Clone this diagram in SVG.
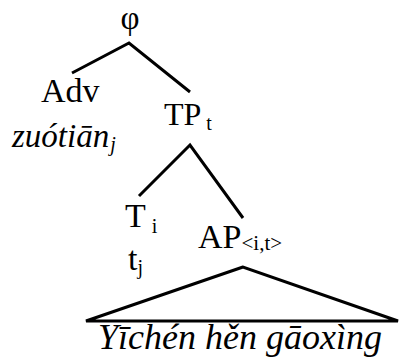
<svg xmlns="http://www.w3.org/2000/svg" width="399" height="358" viewBox="0 0 399 358">
<style>
text{font-family:'Liberation Serif','Times New Roman',serif;fill:#000}
.n{font-size:34px}
.s{font-size:20px}
.it{font-style:italic}
.e{stroke:#000;stroke-width:3;fill:none;stroke-linecap:butt;stroke-linejoin:miter}
</style>
<rect width="399" height="358" fill="#fff"/>
<g id="connectors">
<polyline class="e" points="72,73 129,43 190,92"/>
<polyline class="e" points="139,196 190,145 243,218"/>
<polygon class="e" points="243,267 86,321 398,321"/>
</g>
<g id="phi"><text x="130" y="29" text-anchor="middle" font-size="33">φ</text></g>
<g id="adv">
<text class="n" x="41" y="102">Adv</text>
<text class="it" x="12" y="147" font-size="33">zuótiān<tspan class="s" dx="1" dy="4">j</tspan></text>
</g>
<g id="tp"><text x="164" y="125" font-size="32">TP<tspan class="s" dx="5" dy="5">t</tspan></text></g>
<g id="t">
<text class="n" x="125" y="227">T<tspan class="s" dx="6" dy="6">i</tspan></text>
<text class="n" x="128" y="270">t<tspan font-size="20" dy="4">j</tspan></text>
</g>
<g id="ap"><text class="n" x="198" y="248">AP<tspan font-size="21" dy="2">&lt;i,t&gt;</tspan></text></g>
<g id="leaf"><text class="it" x="98" y="349" font-size="36">Yīchén hěn gāoxìng</text></g>
</svg>
